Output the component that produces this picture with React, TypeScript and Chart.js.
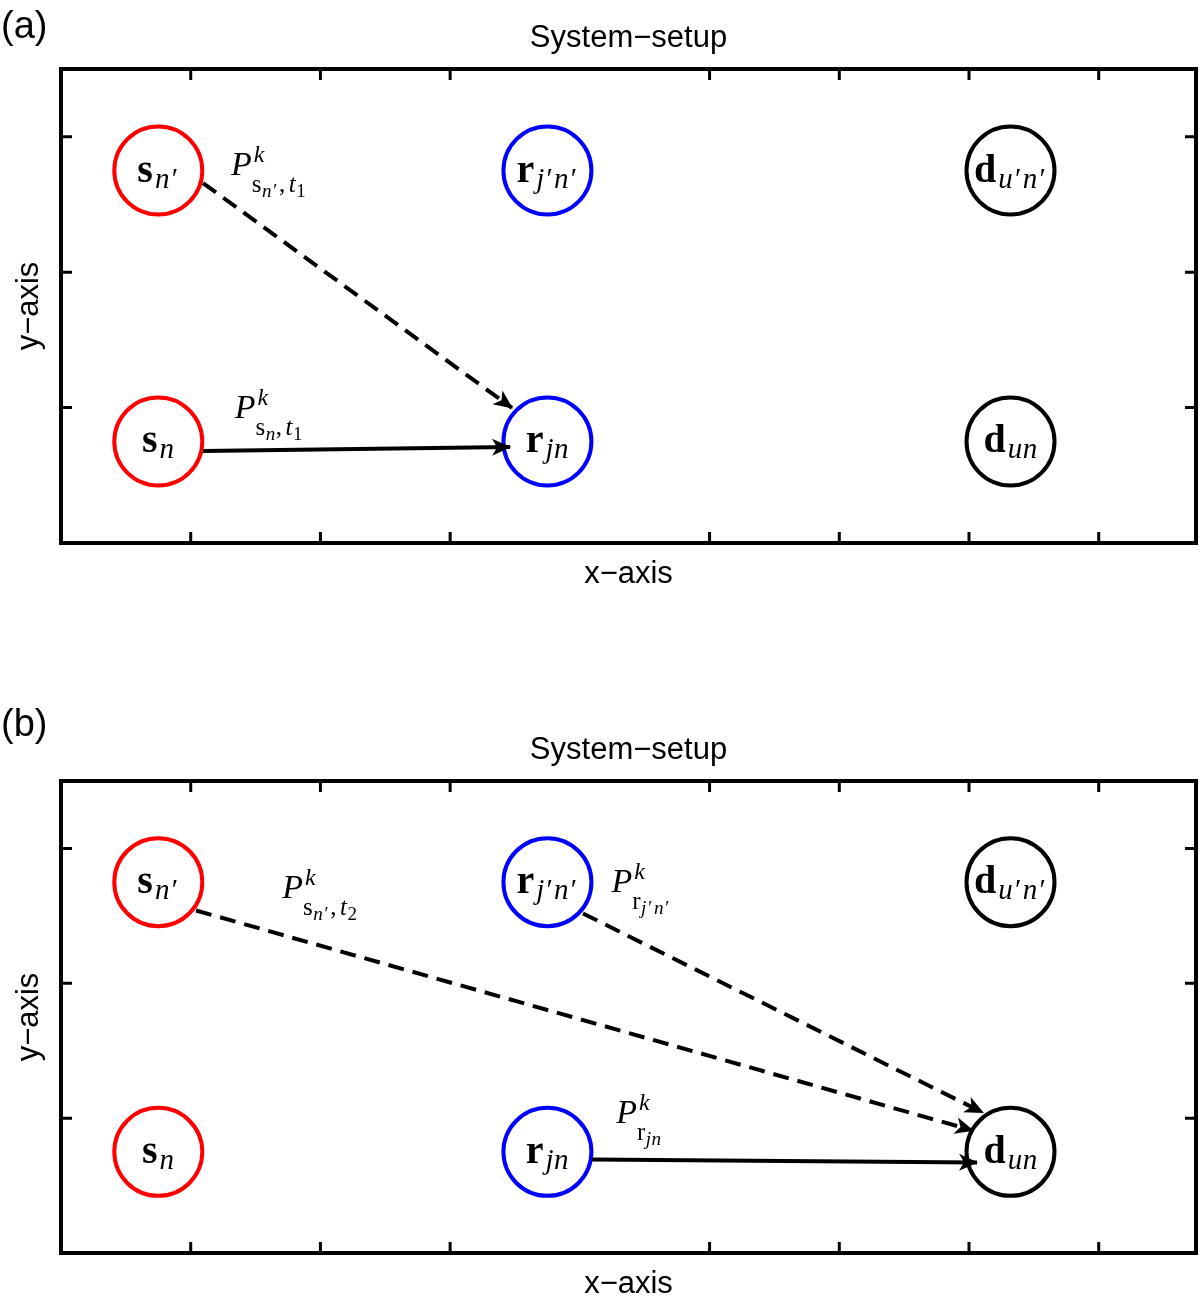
import React, { useEffect, useRef } from "react";
import { Chart, registerables } from "chart.js";
Chart.register(...registerables);

// ---- axes ----
const X_MIN = 0;
const X_MAX = 8.75;
const Y_MIN = 0;
const Y_MAX = 3.5;
const X_TICKS = [1, 2, 3, 5, 6, 7, 8];
const Y_TICKS = [1, 2, 3];
const TITLE = "System\u2212setup";
const X_LABEL = "x\u2212axis";
const Y_LABEL = "y\u2212axis";

// ---- nodes (same in both panels) ----
const SOURCE_X = [0.75, 0.75];
const SOURCE_Y = [2.75, 0.75];
const RELAY_X = [3.75, 3.75];
const RELAY_Y = [2.75, 0.75];
const DEST_X = [7.32, 7.32];
const DEST_Y = [2.75, 0.75];
const SOURCE_LABELS = [["s", "n\u2032"], ["s", "n"]];
const RELAY_LABELS = [["r", "j\u2032n\u2032"], ["r", "jn"]];
const DEST_LABELS = [["d", "u\u2032n\u2032"], ["d", "un"]];

// ---- panel (a) links ----
const A_LINK1_X = [1.095, 3.477];
const A_LINK1_Y = [2.658, 0.997];
const A_LINK2_X = [1.095, 3.462];
const A_LINK2_Y = [0.679, 0.709];
// ---- panel (b) links ----
const B_LINK1_X = [1.041, 7.031];
const B_LINK1_Y = [2.54, 0.908];
const B_LINK2_X = [4.024, 7.108];
const B_LINK2_Y = [2.518, 1.041];
const B_LINK3_X = [4.094, 7.062];
const B_LINK3_Y = [0.694, 0.672];

// power labels: [x, y] anchor and subscript runs [text, style, level]
const A_POWER_POS = [[1.31, 2.72], [1.34, 0.923]];
const A_POWER_SUBS = [
  [["s", "r", 1], ["n\u2032", "i", 2], [",", "r", 1], ["t", "i", 1], ["1", "r", 2]],
  [["s", "r", 1], ["n", "i", 2], [",", "r", 1], ["t", "i", 1], ["1", "r", 2]],
];
const B_POWER_POS = [[1.705, 2.63], [4.244, 2.68], [4.28, 0.967]];
const B_POWER_SUBS = [
  [["s", "r", 1], ["n\u2032", "i", 2], [",", "r", 1], ["t", "i", 1], ["2", "r", 2]],
  [["r", "r", 1], ["j\u2032n\u2032", "i", 2]],
  [["r", "r", 1], ["jn", "i", 2]],
];

const SERIF = '"Liberation Serif", "DejaVu Serif", serif';
const SANS = '"Liberation Sans", Arial, Helvetica, sans-serif';

const pts = (xs: number[], ys: number[]) => xs.map((x, i) => ({ x, y: ys[i] }));

function nodeDataset(xs: number[], ys: number[], color: string) {
  return {
    type: "scatter",
    data: pts(xs, ys),
    pointRadius: 44,
    pointHoverRadius: 44,
    pointBorderWidth: 4,
    pointBorderColor: color,
    pointBackgroundColor: "rgba(0,0,0,0)",
    showLine: false,
    clip: false,
  };
}

function linkDataset(xs: number[], ys: number[], dashed: boolean) {
  return {
    type: "scatter",
    data: pts(xs, ys),
    showLine: true,
    borderColor: "#000",
    borderWidth: 4,
    borderDash: dashed ? [16, 9] : [],
    pointRadius: 0,
    pointHoverRadius: 0,
    isArrow: true,
    clip: false,
  };
}

// draw text char by char with extra spacing after primes; returns width
function spacedText(ctx: CanvasRenderingContext2D, t: string, x: number, y: number, draw: boolean) {
  let cx = x;
  for (const ch of t) {
    if (draw) ctx.fillText(ch, cx, y);
    cx += ctx.measureText(ch).width + (ch === "\u2032" ? 3 : 0.5);
  }
  return cx - x;
}

function makeOverlay(cfg: any) {
  return {
    id: "overlay" + cfg.letter,
    afterDatasetsDraw(chart: any) {
      const { ctx, scales } = chart;
      const xs = scales.x;
      const ys = scales.y;
      ctx.save();
      // arrowheads
      chart.data.datasets.forEach((ds: any, i: number) => {
        if (!ds.isArrow) return;
        const meta = chart.getDatasetMeta(i);
        const a = meta.data[0];
        const b = meta.data[1];
        const ang = Math.atan2(b.y - a.y, b.x - a.x);
        ctx.save();
        ctx.translate(b.x, b.y);
        ctx.rotate(ang);
        ctx.fillStyle = "#000";
        ctx.beginPath();
        ctx.moveTo(1, 0);
        ctx.lineTo(-18, -8.5);
        ctx.lineTo(-13, 0);
        ctx.lineTo(-18, 8.5);
        ctx.closePath();
        ctx.fill();
        ctx.restore();
      });
      // node labels
      ctx.fillStyle = "#000";
      ctx.textBaseline = "alphabetic";
      ctx.textAlign = "left";
      const nodeSets = [
        [SOURCE_X, SOURCE_Y, SOURCE_LABELS],
        [RELAY_X, RELAY_Y, RELAY_LABELS],
        [DEST_X, DEST_Y, DEST_LABELS],
      ];
      const mainFont = "bold 40px " + SERIF;
      const subFont = "italic 29px " + SERIF;
      nodeSets.forEach(([nx, ny, labels]: any) => {
        nx.forEach((vx: number, k: number) => {
          const cx = xs.getPixelForValue(vx);
          const cy = ys.getPixelForValue(ny[k]);
          const [m, s] = labels[k];
          ctx.font = mainFont;
          const wm = ctx.measureText(m).width;
          ctx.font = subFont;
          const wsub = spacedText(ctx, s, 0, 0, false);
          const x0 = cx - (wm + wsub + 2) / 2;
          const base = cy + 11;
          ctx.font = mainFont;
          ctx.fillText(m, x0, base);
          ctx.font = subFont;
          spacedText(ctx, s, x0 + wm + 2, base + 6, true);
        });
      });
      // power labels
      cfg.powerPos.forEach((p: number[], k: number) => {
        let x = xs.getPixelForValue(p[0]);
        const y = ys.getPixelForValue(p[1]);
        ctx.font = "italic 34px " + SERIF;
        ctx.fillText("P", x, y);
        x += ctx.measureText("P").width + 1;
        ctx.font = "italic 24px " + SERIF;
        ctx.fillText("k", x + 1, y - 13);
        let sx = x - 1;
        cfg.powerSubs[k].forEach(([t, st, lvl]: any) => {
          const size = lvl === 1 ? 25 : 19;
          const dy = lvl === 1 ? 17 : 22;
          ctx.font = (st === "i" ? "italic " : "") + size + "px " + SERIF;
          sx += spacedText(ctx, t, sx, y + dy, true) + (t === "," ? 3 : 0);
        });
      });
      ctx.restore();
    },
    afterDraw(chart: any) {
      const { ctx, chartArea: ca, scales } = chart;
      const xs = scales.x;
      const ys = scales.y;
      ctx.save();
      ctx.strokeStyle = "#000";
      ctx.lineJoin = "miter";
      ctx.lineCap = "butt";
      ctx.lineWidth = 4;
      ctx.strokeRect(ca.left, ca.top, ca.right - ca.left, ca.bottom - ca.top);
      ctx.lineWidth = 3;
      const tl = 11;
      X_TICKS.forEach((v) => {
        const px = xs.getPixelForValue(v);
        ctx.beginPath();
        ctx.moveTo(px, ca.bottom);
        ctx.lineTo(px, ca.bottom - tl);
        ctx.moveTo(px, ca.top);
        ctx.lineTo(px, ca.top + tl);
        ctx.stroke();
      });
      Y_TICKS.forEach((v) => {
        const py = ys.getPixelForValue(v);
        ctx.beginPath();
        ctx.moveTo(ca.left, py);
        ctx.lineTo(ca.left + tl, py);
        ctx.moveTo(ca.right, py);
        ctx.lineTo(ca.right - tl, py);
        ctx.stroke();
      });
      ctx.fillStyle = "#000";
      ctx.font = "31px " + SANS;
      ctx.textAlign = "center";
      ctx.textBaseline = "alphabetic";
      const midX = (ca.left + ca.right) / 2;
      ctx.fillText(TITLE, midX, ca.top - 22);
      ctx.fillText(X_LABEL, midX, ca.bottom + 40);
      ctx.save();
      ctx.translate(38, (ca.top + ca.bottom) / 2);
      ctx.rotate(-Math.PI / 2);
      ctx.fillText(Y_LABEL, 0, 0);
      ctx.restore();
      ctx.textAlign = "left";
      ctx.font = "38px " + SANS;
      ctx.fillText(cfg.letter, 1, cfg.letterY);
      ctx.restore();
    },
  };
}

function buildChart(canvas: HTMLCanvasElement, cfg: any) {
  return new Chart(canvas, {
    type: "scatter",
    data: {
      datasets: [
        ...cfg.links,
        nodeDataset(SOURCE_X, SOURCE_Y, "#ff0000"),
        nodeDataset(RELAY_X, RELAY_Y, "#0000ff"),
        nodeDataset(DEST_X, DEST_Y, "#000000"),
      ] as any,
    },
    options: {
      animation: false,
      responsive: false,
      events: [],
      devicePixelRatio: 1,
      layout: { padding: cfg.padding, autoPadding: false },
      scales: {
        x: { type: "linear", min: X_MIN, max: X_MAX, display: false },
        y: { type: "linear", min: Y_MIN, max: Y_MAX, display: false },
      },
      plugins: {
        legend: { display: false },
        title: { display: false },
        tooltip: { enabled: false },
      },
    },
    plugins: [makeOverlay(cfg)],
  } as any);
}

export default function App() {
  const refA = useRef<HTMLCanvasElement>(null);
  const refB = useRef<HTMLCanvasElement>(null);
  useEffect(() => {
    document.body.style.margin = "0";
    document.body.style.overflow = "hidden";
    const a = buildChart(refA.current!, {
      letter: "(a)",
      letterY: 38,
      padding: { left: 61, right: 4, top: 69, bottom: 147 },
      links: [
        linkDataset(A_LINK1_X, A_LINK1_Y, true),
        linkDataset(A_LINK2_X, A_LINK2_Y, false),
      ],
      powerPos: A_POWER_POS,
      powerSubs: A_POWER_SUBS,
    });
    const b = buildChart(refB.current!, {
      letter: "(b)",
      letterY: 46,
      padding: { left: 61, right: 4, top: 91, bottom: 43 },
      links: [
        linkDataset(B_LINK1_X, B_LINK1_Y, true),
        linkDataset(B_LINK2_X, B_LINK2_Y, true),
        linkDataset(B_LINK3_X, B_LINK3_Y, false),
      ],
      powerPos: B_POWER_POS,
      powerSubs: B_POWER_SUBS,
    });
    return () => {
      a.destroy();
      b.destroy();
    };
  }, []);
  return (
    <div style={{ position: "absolute", left: 0, top: 0, width: 1200, height: 1296, background: "#fff", overflow: "hidden" }}>
      <canvas ref={refA} width={1200} height={690} style={{ position: "absolute", left: 0, top: 0, width: 1200, height: 690 }} />
      <canvas ref={refB} width={1200} height={606} style={{ position: "absolute", left: 0, top: 690, width: 1200, height: 606 }} />
    </div>
  );
}
